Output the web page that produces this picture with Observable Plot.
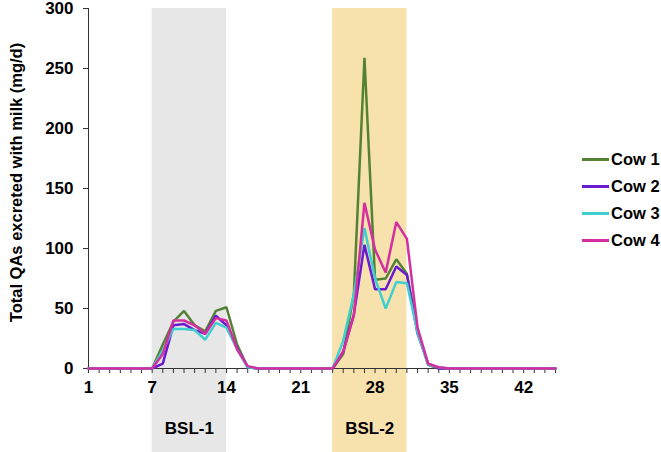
<!DOCTYPE html>
<html>
<head>
<meta charset="utf-8">
<script src="https://cdn.jsdelivr.net/npm/d3@7"></script>
<script src="https://cdn.jsdelivr.net/npm/@observablehq/plot@0.6"></script>
<style>
  body { margin: 0; background: #fff; }
  #wrap { position: relative; width: 661px; height: 452px; font-family: Arial, "Liberation Sans", sans-serif; }
  #legend { position: absolute; left: 582px; top: 146px; }
  .row { display: flex; align-items: center; height: 27px; font-weight: bold; font-size: 16.5px; color: #000; }
  .sw { width: 27px; height: 2.5px; margin-right: 2px; }
</style>
</head>
<body>
<div id="wrap"><div id="legend"></div></div>
<script>
const days = d3.range(1, 46);
const seriesNames = ["Cow 1", "Cow 2", "Cow 3", "Cow 4"];
const seriesColors = ["#548235", "#6a1bd1", "#3fcfcf", "#d42ea0"];
//            d1..d7           d8 d9 d10 d11 d12 d13 d14 d15 d16 d17..d23        d24 d25 d26 d27 d28 d29 d30 d31 d32 d33 d34 d35..d45
const cow1 = [0,0,0,0,0,0,0,  20,39,48,36,31,48,51,20,1,  0,0,0,0,0,0,0,  0,12,62,259,74,75,91,79,32,3,0,  0,0,0,0,0,0,0,0,0,0,0];
const cow2 = [0,0,0,0,0,0,0,  4,36,37,32,29,44,36,17,1,   0,0,0,0,0,0,0,  0,14,45,103,66,66,85,78,29,4,0,  0,0,0,0,0,0,0,0,0,0,0];
const cow3 = [0,0,0,0,0,0,0,  15,33,33,32,24,38,34,16,1,  0,0,0,0,0,0,0,  0,23,62,117,75,50,72,71,30,3,1,  0,0,0,0,0,0,0,0,0,0,0];
const cow4 = [0,0,0,0,0,0,0,  12,40,40,36,29,42,40,16,2,  0,0,0,0,0,0,0,  0,14,44,138,99,80,122,108,34,4,1, 0,0,0,0,0,0,0,0,0,0,0];
const allSeries = [cow1, cow2, cow3, cow4];

const bandNames = ["BSL-1", "BSL-2"];
const bandStart = [7, 24];
const bandEnd = [14, 31];
const bandColors = ["#e7e7e7", "#f7e2ae"];

const yTicks = [0, 50, 100, 150, 200, 250, 300];
const xLabels = [1, 7, 14, 21, 28, 35, 42];
const yTitle = "Total QAs excreted with milk (mg/d)";

const rows = allSeries.flatMap((vals, i) => vals.map((v, j) => ({day: days[j], value: v, cow: seriesNames[i]})));
const bands = bandNames.map((n, i) => ({name: n, start: bandStart[i], end: bandEnd[i], color: bandColors[i]}));

const chart = Plot.plot({
  width: 661, height: 452,
  marginLeft: 88, marginRight: 106, marginTop: 8, marginBottom: 84,
  x: {domain: [1, 45]},
  y: {domain: [0, 300]},
  color: {domain: seriesNames, range: seriesColors},
  style: {fontFamily: "Arial, 'Liberation Sans', sans-serif", fontSize: "16.5px", fontWeight: "bold", color: "#000", background: "transparent", overflow: "visible"},
  marks: [
    Plot.rect(bands, {x1: "start", x2: "end", y1: -70, y2: 300, fill: "color"}),
    Plot.text(bands, {x: d => (d.start + d.end) / 2, y: -50, text: "name", fontSize: 17, fontWeight: "bold", fill: "#000"}),
    Plot.axisY(yTicks, {tickSize: 5, tickPadding: 10, label: null, stroke: "#333", fontSize: 17}),
    Plot.axisX(days, {tickSize: 5, tickFormat: () => "", label: null, stroke: "#333"}),
    Plot.axisX(xLabels, {tickSize: 0, tickPadding: 12, label: null, fontSize: 17}),
    Plot.ruleX([1], {y1: 0, y2: 300, stroke: "#333"}),
    Plot.ruleY([0], {stroke: "#333"}),
    Plot.line(rows, {x: "day", y: "value", z: "cow", stroke: "cow", strokeWidth: 2.5, strokeLinejoin: "miter"}),
    Plot.text([yTitle], {frameAnchor: "left", textAnchor: "middle", dx: -72, dy: -6, rotate: -90, text: d => d, fontSize: 16.5, fontWeight: "bold", fill: "#000"})
  ]
});
const wrap = document.getElementById("wrap");
wrap.insertBefore(chart, wrap.firstChild);

const legend = document.getElementById("legend");
seriesNames.forEach((n, i) => {
  const r = document.createElement("div");
  r.className = "row";
  r.innerHTML = `<span class="sw" style="background:${seriesColors[i]}"></span><span>${n}</span>`;
  legend.appendChild(r);
});
</script>
</body>
</html>
